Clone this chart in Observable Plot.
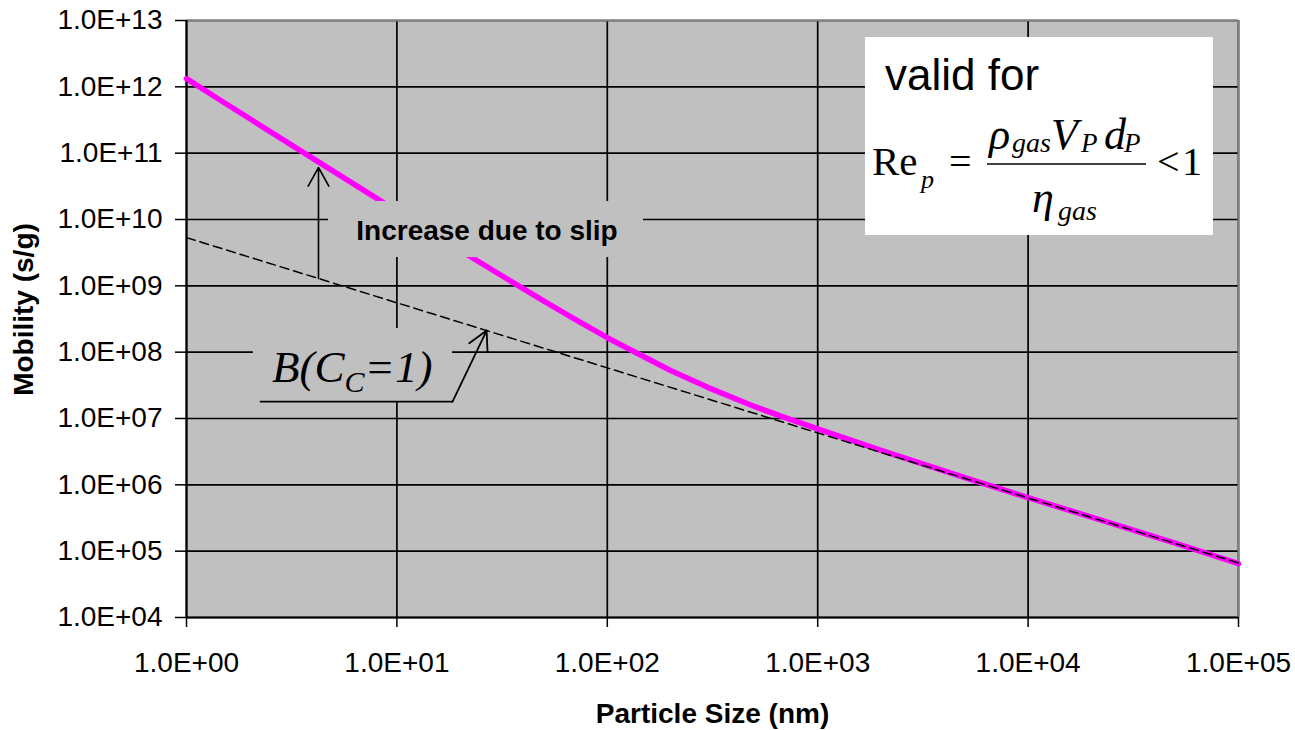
<!DOCTYPE html>
<html><head><meta charset="utf-8">
<script src="https://cdn.jsdelivr.net/npm/d3@7"></script>
<script src="https://cdn.jsdelivr.net/npm/@observablehq/plot@0.6"></script>
<style>
html,body{margin:0;padding:0;background:#fff;}
#chart svg{display:block;}
</style></head><body><div id="chart"></div>
<script>
// ---- data ----
const sizes = [1, 1.5, 2, 3, 4, 5, 7, 10, 15, 20, 30, 50, 70, 100, 150, 200, 300, 500, 700, 1000, 2000, 5000, 10000, 20000, 50000, 100000];
const mobility = [1.33e12, 5.86e11, 3.30e11, 1.47e11, 8.28e10, 5.31e10, 2.72e10, 1.34e10, 6.03e9, 3.43e9, 1.56e9, 5.89e8, 3.16e8, 1.65e8, 8.45e7, 5.3e7, 2.95e7, 1.52e7, 1.03e7, 7.0e6, 3.3e6, 1.28e6, 6.4e5, 3.25e5, 1.32e5, 6.5e4];
const noSlipSizes = [1, 10, 100, 1000, 10000, 100000];
const noSlipMobility = [5.33e9, 5.55e8, 5.8e7, 6.07e6, 6.34e5, 6.63e4];
const xTicks = [1, 10, 100, 1000, 10000, 100000];
const yTicks = [1e4, 1e5, 1e6, 1e7, 1e8, 1e9, 1e10, 1e11, 1e12, 1e13];
const xTitle = "Particle Size (nm)";
const yTitle = "Mobility (s/g)";
const slipLabel = "Increase due to slip";
const validLabel = "valid for";

// annotation anchors in data space
const slipBox = [{x1: 4.73, x2: 148.6, y1: 2.67e9, y2: 1.87e10}];
const slipText = [{x: 26.8, y: 4.94e9, t: slipLabel}];
const slipArrow = [{x1: 4.24, y1: 1.29e9, x2: 4.24, y2: 6.08e10}];
const ccBox = [{x1: 2.08, x2: 18.38, y1: 1.8e7, y2: 2.27e8}];
const ccLeader = [{x: 2.247, y: 1.8e7}, {x: 18.38, y: 1.8e7}];
const ccArrow = [{x1: 18.38, y1: 1.8e7, x2: 26.7, y2: 2.12e8}];
const ccTextAnchor = {x: 2.563, y: 3.52e7};
const validBox = [{x1: 1687, x2: 76070, y1: 5.735e9, y2: 5.54e12}];

const fmt = d => "1.0E+" + String(Math.round(Math.log10(d))).padStart(2, "0");
const slipData = sizes.map((d, i) => ({d, b: mobility[i]}));
const noSlipData = noSlipSizes.map((d, i) => ({d, b: noSlipMobility[i]}));

const SANS = "'Liberation Sans', Arial, sans-serif";
const SERIF = "'Liberation Serif', 'Times New Roman', serif";

const plot = Plot.plot({
  width: 1295, height: 730,
  marginLeft: 186, marginRight: 57, marginTop: 20, marginBottom: 113,
  style: {fontFamily: SANS, fontSize: "28px", color: "#000", background: "#fff", overflow: "visible"},
  x: {type: "log", domain: [1, 1e5]},
  y: {type: "log", domain: [1e4, 1e13]},
  marks: [
    Plot.frame({fill: "#c0c0c0", stroke: null}),
    Plot.gridX(xTicks, {stroke: "#000", strokeOpacity: 1, strokeWidth: 1.7}),
    Plot.gridY(yTicks, {stroke: "#000", strokeOpacity: 1, strokeWidth: 1.7}),
    Plot.ruleY([1e13], {stroke: "#808080", strokeWidth: 2}),
    Plot.ruleX([1e5], {stroke: "#808080", strokeWidth: 2}),
    Plot.ruleX([1], {stroke: "#000", strokeWidth: 2}),
    Plot.ruleY([1e4], {stroke: "#000", strokeWidth: 2}),
    Plot.axisX(xTicks, {tickFormat: fmt, tickSize: 10, tickPadding: 25, label: null, strokeWidth: 1.5, fontSize: 28}),
    Plot.axisY(yTicks, {tickFormat: fmt, tickSize: 11, tickPadding: 13, label: null, strokeWidth: 1.5, fontSize: 28}),
    Plot.line(slipData, {x: "d", y: "b", stroke: "#ff00ff", strokeWidth: 5.5}),
    Plot.line(noSlipData, {x: "d", y: "b", stroke: "#000", strokeWidth: 1.5, strokeDasharray: "9,5"}),
    // annotations
    Plot.rect(slipBox, {x1: "x1", x2: "x2", y1: "y1", y2: "y2", fill: "#c0c0c0"}),
    Plot.text(slipText, {x: "x", y: "y", text: "t", fontWeight: "bold", fontSize: 28, lineAnchor: "bottom", textAnchor: "middle"}),
    Plot.arrow(slipArrow, {x1: "x1", y1: "y1", x2: "x2", y2: "y2", stroke: "#000", strokeWidth: 1.6, headLength: 20, headAngle: 58}),
    Plot.rect(ccBox, {x1: "x1", x2: "x2", y1: "y1", y2: "y2", fill: "#c0c0c0"}),
    Plot.line(ccLeader, {x: "x", y: "y", stroke: "#000", strokeWidth: 1.8}),
    Plot.arrow(ccArrow, {x1: "x1", y1: "y1", x2: "x2", y2: "y2", stroke: "#000", strokeWidth: 1.8, headLength: 18, headAngle: 56}),
    Plot.rect(validBox, {x1: "x1", x2: "x2", y1: "y1", y2: "y2", fill: "#fff"}),
    // axis titles
    Plot.text([yTitle], {frameAnchor: "left", text: d => d, rotate: -90, dx: -162, dy: -9.5, fontWeight: "bold", fontSize: 28, textAnchor: "middle"}),
    Plot.text([xTitle], {frameAnchor: "bottom", text: d => d, dy: 86, fontWeight: "bold", fontSize: 28, lineAnchor: "top", textAnchor: "middle"})
  ]
});

// rich-text annotations positioned via the plot's scales
const sx = plot.scale("x"), sy = plot.scale("y");
const svg = d3.select(plot);

// B(C_C=1)
const cc = svg.append("text")
  .attr("x", sx.apply(ccTextAnchor.x)).attr("y", sy.apply(ccTextAnchor.y))
  .attr("text-anchor", "start")
  .attr("font-family", SERIF).attr("font-style", "italic").attr("font-size", 45).attr("fill", "#000");
cc.append("tspan").text("B(C");
cc.append("tspan").attr("font-size", 30).attr("dy", 10).text("C");
cc.append("tspan").attr("dy", -10).text("=1)");

// valid for Re_p = rho_gas V_P d_P / eta_gas < 1
const g = svg.append("g").attr("text-anchor", "start")
  .attr("transform", `translate(${sx.apply(validBox[0].x1)},${sy.apply(validBox[0].y2)})`);
g.append("text").attr("x", 20).attr("y", 53).attr("text-anchor", "start").attr("font-family", SANS).attr("font-size", 44).text(validLabel);
const T = (x, y, s, size, italic) => g.append("text").attr("x", x).attr("y", y).attr("text-anchor", "start")
  .attr("font-family", SERIF).attr("font-size", size).attr("font-style", italic ? "italic" : "normal").text(s);
T(7, 138, "Re", 41, false);
T(56, 151, "p", 26, true);
T(84, 138, "=", 40, false);
T(124, 112, "ρ", 44, true);
T(147, 115, "gas", 28, true);
T(186, 112, "V", 44, true);
T(216, 115, "P", 27, true);
T(239, 112, "d", 44, true);
T(259, 115, "P", 27, true);
g.append("line").attr("x1", 122).attr("x2", 281).attr("y1", 127).attr("y2", 127).attr("stroke", "#000").attr("stroke-width", 1.6);
T(167, 175, "η", 44, true);
T(193, 183, "gas", 28, true);
T(292, 138, "<", 40, false);
T(317, 138, "1", 40, false);

document.getElementById("chart").appendChild(plot);
</script>
</body></html>
